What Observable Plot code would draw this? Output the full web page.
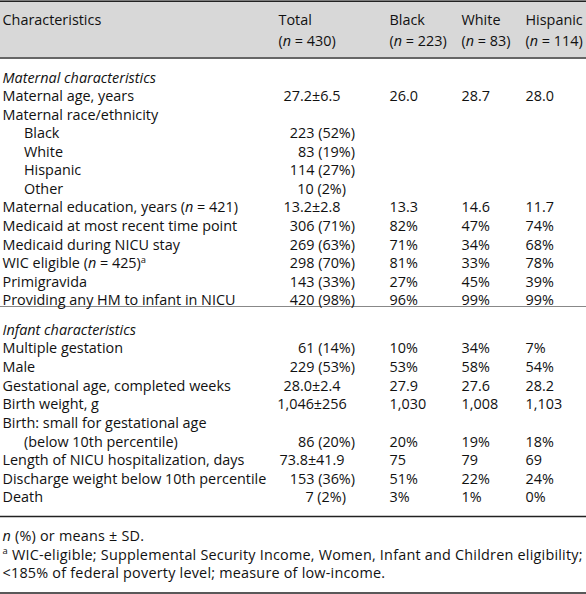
<!DOCTYPE html>
<html><head><meta charset="utf-8">
<script src="https://cdn.jsdelivr.net/npm/d3@7"></script>
<script src="https://cdn.jsdelivr.net/npm/@observablehq/plot@0.6"></script>
<style>html,body{margin:0;padding:0;background:#fff} svg{display:block}</style>
</head><body><div id="chart"></div>
<script>
// ---------- data ----------
const columns = ["Characteristics", "Total", "Black", "White", "Hispanic"];
const columnN = ["", "(<i>n</i> = 430)", "(<i>n</i> = 223)", "(<i>n</i> = 83)", "(<i>n</i> = 114)"];
const sections = ["Maternal characteristics", "Infant characteristics"];

const maternalLabels = ["Maternal age, years", "Maternal race/ethnicity", "Black", "White", "Hispanic", "Other",
  "Maternal education, years (<i>n</i> = 421)", "Medicaid at most recent time point", "Medicaid during NICU stay",
  "WIC eligible (<i>n</i> = 425)<sup>a</sup>", "Primigravida", "Providing any HM to infant in NICU"];
const maternalTotal = ["27.2±6.5", "", "223 (52%)", "83 (19%)", "114 (27%)", "10 (2%)", "13.2±2.8",
  "306 (71%)", "269 (63%)", "298 (70%)", "143 (33%)", "420 (98%)"];
const maternalBlack = ["26.0", "", "", "", "", "", "13.3", "82%", "71%", "81%", "27%", "96%"];
const maternalWhite = ["28.7", "", "", "", "", "", "14.6", "47%", "34%", "33%", "45%", "99%"];
const maternalHispanic = ["28.0", "", "", "", "", "", "11.7", "74%", "68%", "78%", "39%", "99%"];

const infantLabels = ["Multiple gestation", "Male", "Gestational age, completed weeks", "Birth weight, g",
  "Birth: small for gestational age", "(below 10th percentile)", "Length of NICU hospitalization, days",
  "Discharge weight below 10th percentile", "Death"];
const infantTotal = ["61 (14%)", "229 (53%)", "28.0±2.4", "1,046±256", "", "86 (20%)", "73.8±41.9", "153 (36%)", "7 (2%)"];
const infantBlack = ["10%", "53%", "27.9", "1,030", "", "20%", "75", "51%", "3%"];
const infantWhite = ["34%", "58%", "27.6", "1,008", "", "19%", "79", "22%", "1%"];
const infantHispanic = ["7%", "54%", "28.2", "1,103", "", "18%", "69", "24%", "0%"];

// sub-items (indented under a parent row)
const subItems = ["Black", "White", "Hispanic", "Other", "(below 10th percentile)"];

const footnotes = ["<i>n</i> (%) or means ± SD.",
  "<sup>a</sup> WIC-eligible; Supplemental Security Income, Women, Infant and Children eligibility;",
  "<185% of federal poverty level; measure of low-income."];

// ---------- layout ----------
const W = 586, H = 594;
const FONT = "'Open Sans', 'Noto Sans', sans-serif";
const FS = 14.4;
const colX = [2, 278, 389, 461, 525];
const indentX = 23.5;
const totalMeanX = 311.5, totalEndX = 354.5, digitW = 9;
const headY = [19.5, 41];
const sec1Y = 77.5, sec1Step = 18.55;
const sec2Y = 329.5, sec2Step = 18.65;
const footY = 536, footStep = 18.5;

const cells = []; // {x, y, text, anchor, italic, foot}
columns.forEach((c, j) => {
  cells.push({x: colX[j], y: headY[0], text: c, anchor: "start"});
  if (columnN[j]) cells.push({x: colX[j], y: headY[1], text: columnN[j], anchor: "start"});
});
function addSection(title, y0, step, labels, tot, bl, wh, hi) {
  cells.push({x: colX[0], y: y0, text: title, anchor: "start", italic: true});
  labels.forEach((l, i) => {
    const y = y0 + (i + 1) * step;
    cells.push({x: subItems.includes(l) ? indentX : colX[0], y, text: l, anchor: "start"});
    const t = tot[i];
    if (t) {
      if (t.includes("±")) cells.push({x: totalMeanX, y, text: t, anchor: "middle"});
      else cells.push({x: /\(\d%\)/.test(t) ? totalEndX - digitW : totalEndX, y, text: t, anchor: "end"});
    }
    [bl, wh, hi].forEach((arr, k) => { if (arr[i]) cells.push({x: colX[k + 2], y, text: arr[i], anchor: "start"}); });
  });
}
addSection(sections[0], sec1Y, sec1Step, maternalLabels, maternalTotal, maternalBlack, maternalWhite, maternalHispanic);
addSection(sections[1], sec2Y, sec2Step, infantLabels, infantTotal, infantBlack, infantWhite, infantHispanic);
const footCells = footnotes.map((f, i) => ({x: colX[0], y: footY + i * footStep, text: f}));

const rules = [
  {y: 0.75, w: 1.5, c: "#222"},
  {y: 57.5, w: 1.6, c: "#333"},
  {y: 306, w: 1, c: "#888"},
  {y: 516, w: 1.5, c: "#222"},
  {y: 592.5, w: 1.5, c: "#222"}
];

const textOpts = (anchor, italic) => ({
  x: "x", y: "y", text: "text", textAnchor: anchor, lineAnchor: "middle",
  fontFamily: FONT, fontSize: FS, fill: "#111", fontStyle: italic ? "italic" : "normal"
});

const chart = Plot.plot({
  width: W, height: H, margin: 0,
  x: {type: "linear", domain: [0, W], range: [0, W], axis: null},
  y: {type: "linear", domain: [0, H], range: [0, H], axis: null},
  style: {background: "#fff", fontFamily: FONT},
  marks: [
    Plot.rect([{x1: 0, x2: W, y1: 0, y2: 57}], {x1: "x1", x2: "x2", y1: "y1", y2: "y2", fill: "#d8d8d8"}),
    ...rules.map(r => Plot.ruleY([r.y], {stroke: r.c, strokeWidth: r.w})),
    Plot.text(cells.filter(d => d.anchor === "start" && !d.italic), textOpts("start", false)),
    Plot.text(cells.filter(d => d.anchor === "start" && d.italic), textOpts("start", true)),
    Plot.text(cells.filter(d => d.anchor === "middle"), textOpts("middle", false)),
    Plot.text(cells.filter(d => d.anchor === "end"), textOpts("end", false)),
    Plot.text(footCells, {...textOpts("start", false), className: "foot"})
  ]
});

// footnotes are set slightly looser
chart.querySelectorAll(".foot text").forEach(t => t.setAttribute("letter-spacing", "0.22"));

// rich text: <i> and <sup>
const NS = "http://www.w3.org/2000/svg";
chart.querySelectorAll("text").forEach(t => {
  const s = t.textContent;
  if (!/<(i|sup)>/.test(s)) return;
  t.textContent = "";
  const parts = s.split(/(<i>.*?<\/i>|<sup>.*?<\/sup>)/);
  let raised = false;
  for (const p of parts) {
    if (!p) continue;
    const ts = document.createElementNS(NS, "tspan");
    if (p.startsWith("<i>")) {
      ts.setAttribute("font-style", "italic");
      ts.textContent = p.slice(3, -4);
      if (raised) { ts.setAttribute("dy", "0.36em"); raised = false; }
    } else if (p.startsWith("<sup>")) {
      ts.setAttribute("font-size", "65%");
      ts.setAttribute("dy", "-0.55em");
      ts.textContent = p.slice(5, -6);
      raised = true;
    } else {
      ts.textContent = p;
      if (raised) { ts.setAttribute("dy", "0.36em"); raised = false; }
    }
    t.appendChild(ts);
  }
});
document.getElementById("chart").appendChild(chart);
</script>
</body></html>
